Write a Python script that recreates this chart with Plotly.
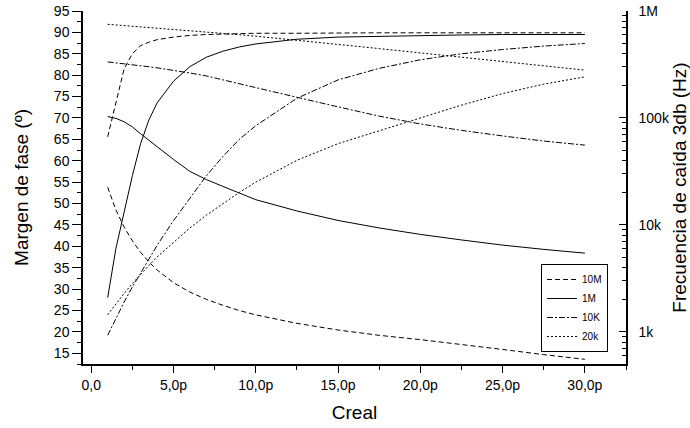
import plotly.graph_objects as go

# Creal values (pF)
creal_pF = [1, 1.5, 2, 2.5, 3, 3.5, 4, 5, 6, 7, 8, 9, 10, 12.5, 15, 17.5, 20, 22.5, 25, 27.5, 30]

# Phase margin (degrees), left axis
phase_10M = [65.6, 73.5, 81.5, 85.0, 86.9, 87.7, 88.3, 88.9, 89.3, 89.5, 89.6, 89.7, 89.8, 89.8,
             89.9, 89.9, 89.9, 89.9, 89.9, 89.9, 89.9]
phase_1M = [28.0, 39.5, 48.0, 56.5, 64.0, 69.5, 73.5, 78.6, 82.0, 84.2, 85.6, 86.6, 87.3, 88.4,
            88.9, 89.1, 89.3, 89.4, 89.5, 89.5, 89.5]
phase_10K = [19.2, 23.2, 27.0, 30.5, 33.8, 37.0, 40.2, 46.0, 51.3, 56.5, 61.0, 65.0, 68.2, 74.6,
             78.9, 81.6, 83.6, 85.0, 86.0, 86.8, 87.4]
phase_20k = [24.0, 26.6, 29.0, 31.3, 33.5, 35.5, 37.5, 41.0, 44.3, 47.3, 50.0, 52.6, 55.0, 60.1,
             64.0, 67.0, 70.0, 73.0, 75.7, 77.9, 79.6]

# 3 dB cut-off frequency (Hz), right axis
freq_10M = [22500, 13800, 9530, 7100, 5530, 4520, 3790, 2880, 2350, 2010, 1770, 1580, 1440, 1200,
            1040, 927, 845, 764, 684, 612, 553]
freq_1M = [103000, 99100, 92000, 82400, 71100, 61900, 53400, 40900, 31600, 26500, 22900, 19700,
           17200, 13500, 11000, 9360, 8150, 7230, 6470, 5900, 5440]
freq_10K = [334000, 328000, 319000, 313000, 307000, 301000, 294000, 280000, 263000, 247000, 227000,
            207000, 190000, 156000, 127000, 104000, 87900, 76500, 67900, 60800, 55700]
freq_20k = [751000, 741000, 731000, 721000, 711000, 701000, 692000, 673000, 655000, 637000, 619000,
            600000, 581000, 535000, 487000, 445000, 405000, 370000, 337000, 307000, 280000]

series_names = ["10M", "1M", "10K", "20k"]
x_tickvals = [0, 5, 10, 15, 20, 25, 30]
x_ticktext = ["0,0", "5,0p", "10,0p", "15,0p", "20,0p", "25,0p", "30,0p"]
y2_tickvals = [1e3, 1e4, 1e5, 1e6]
y2_ticktext = ["1k", "10k", "100k", "1M"]

FONT = "Liberation Sans, Arial, sans-serif"
dashes = {"10M": "5px,3px", "1M": "solid", "10K": "6px,2px,2px,2px", "20k": "2px,2px"}
phases = {"10M": phase_10M, "1M": phase_1M, "10K": phase_10K, "20k": phase_20k}
freqs = {"10M": freq_10M, "1M": freq_1M, "10K": freq_10K, "20k": freq_20k}

fig = go.Figure()
for name in series_names:
    fig.add_trace(go.Scatter(x=creal_pF, y=phases[name], mode="lines", name=name,
                             legendgroup=name, showlegend=True,
                             line=dict(color="black", width=1, dash=dashes[name])))
    fig.add_trace(go.Scatter(x=creal_pF, y=freqs[name], mode="lines", name=name,
                             legendgroup=name, showlegend=False, yaxis="y2",
                             line=dict(color="black", width=1, dash=dashes[name])))

minor_y2 = []
for dec in [100, 1000, 10000, 100000]:
    for m in range(2, 10):
        v = dec * m
        if 500 <= v < 1e6:
            minor_y2.append(v)

fig.update_layout(
    width=690, height=428,
    margin=dict(l=83, r=64, t=11, b=64),
    paper_bgcolor="white", plot_bgcolor="white",
    font=dict(family=FONT, color="black", size=14),
    showlegend=True,
    legend=dict(x=0.8435, y=0.2833, xanchor="left", yanchor="top",
                bordercolor="black", borderwidth=1, bgcolor="white",
                font=dict(size=10, family=FONT), itemwidth=30, tracegroupgap=0),
    xaxis=dict(range=[-0.5, 32.5], tickvals=x_tickvals, ticktext=x_ticktext,
               ticks="outside", ticklen=7, tickwidth=1, tickcolor="black",
               showline=True, linecolor="black", linewidth=1.5, mirror=False,
               showgrid=False, zeroline=False, automargin=False,
               minor=dict(tickvals=[2.5, 7.5, 12.5, 17.5, 22.5, 27.5, 32.5], ticks="outside", ticklen=4, tickcolor="black"),
               tickfont=dict(size=14),
               title=dict(text="Creal", font=dict(size=19), standoff=14)),
    yaxis=dict(range=[12.5, 95], tick0=15, dtick=5,
               ticks="outside", ticklen=9, tickwidth=1, tickcolor="black",
               showline=True, linecolor="black", linewidth=1.5,
               showgrid=False, zeroline=False, automargin=False,
               minor=dict(dtick=2.5, tick0=12.5, ticks="outside", ticklen=4, tickcolor="black"),
               tickfont=dict(size=14),
               title=dict(text="Margen de fase (º)", font=dict(size=19), standoff=20)),
    yaxis2=dict(type="log", range=[2.699, 6], overlaying="y", side="right",
                tickvals=y2_tickvals, ticktext=y2_ticktext,
                ticks="inside", ticklen=7, tickwidth=1, tickcolor="black",
                showline=True, linecolor="black", linewidth=1.5,
                showgrid=False, zeroline=False, automargin=False,
                ticklabelstandoff=8,
                minor=dict(tickvals=minor_y2, ticks="inside", ticklen=4, tickcolor="black"),
                tickfont=dict(size=14),
                title=dict(text="Frecuencia de caída 3db (Hz)", font=dict(size=19), standoff=14)),
)

fig.write_html("out.html")
